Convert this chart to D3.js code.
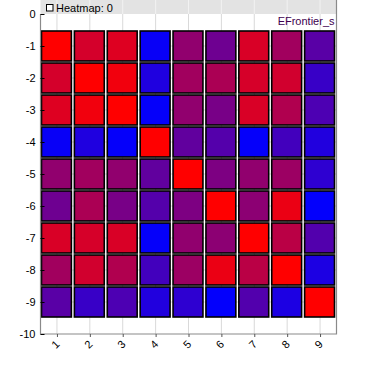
<!DOCTYPE html>
<html>
<head>
<meta charset="utf-8">
<script src="https://cdn.jsdelivr.net/npm/d3@7"></script>
<style>
  body { margin: 0; background: #fff; }
  text { font-family: "Liberation Sans", Arial, sans-serif; }
</style>
</head>
<body>
<div id="chart"></div>
<script>
const width = 376;
const height = 371;

const xCategories = [1, 2, 3, 4, 5, 6, 7, 8, 9];
const yCategories = [-1, -2, -3, -4, -5, -6, -7, -8, -9];
const yTicks = [0, -1, -2, -3, -4, -5, -6, -7, -8, -9, -10];

// cell values, one row per y category (0 = blue, 1 = red)
const rowValues = [
    [1.00, 0.83, 0.87, 0.03, 0.57, 0.43, 0.85, 0.63, 0.35],
    [0.83, 1.00, 0.95, 0.12, 0.63, 0.67, 0.84, 0.82, 0.22],
    [0.87, 0.95, 1.00, 0.02, 0.57, 0.47, 0.85, 0.69, 0.30],
    [0.03, 0.12, 0.02, 1.00, 0.38, 0.33, 0.02, 0.26, 0.13],
    [0.57, 0.63, 0.57, 0.38, 1.00, 0.49, 0.57, 0.61, 0.18],
    [0.43, 0.67, 0.47, 0.33, 0.49, 1.00, 0.55, 0.92, 0.01],
    [0.85, 0.84, 0.85, 0.02, 0.57, 0.55, 1.00, 0.73, 0.32],
    [0.63, 0.82, 0.69, 0.26, 0.61, 0.92, 0.73, 1.00, 0.11],
    [0.35, 0.22, 0.30, 0.13, 0.18, 0.01, 0.32, 0.11, 1.00]
];

const headerLabel = "Heatmap: 0";
const seriesLabel = "EFrontier_s";

const cells = [];
yCategories.forEach((yv, i) => {
    xCategories.forEach((xv, j) => {
        cells.push({ x: xv, y: yv, v: rowValues[i][j] });
    });
});

const plotLeft = 40.5, plotRight = 336.5, plotTop = 14, plotBottom = 334;

const x = d3.scaleLinear().domain([0.5, 9.5]).range([plotLeft, plotRight]);
const y = d3.scaleLinear().domain([0, -10]).range([plotTop, plotBottom]);
const color = d3.scaleLinear().domain([0, 1]).range(["#0000ff", "#ff0000"]);

const svg = d3.select('#chart')
    .append('svg')
    .attr('width', width)
    .attr('height', height);

// header band
svg.append('rect')
    .attr('x', plotLeft).attr('y', 0)
    .attr('width', plotRight - plotLeft).attr('height', plotTop)
    .attr('fill', '#e3e3e3');

// grid
svg.append('g')
    .selectAll('line')
    .data(xCategories)
    .enter()
    .append('line')
    .attr('x1', d => x(d)).attr('x2', d => x(d))
    .attr('y1', plotTop).attr('y2', plotBottom)
    .attr('stroke', '#d9d9d9');

svg.append('g')
    .selectAll('line')
    .data(xCategories)
    .enter()
    .append('line')
    .attr('x1', d => x(d)).attr('x2', d => x(d))
    .attr('y1', 0).attr('y2', plotTop)
    .attr('stroke', '#f2f2f2');

svg.append('g')
    .selectAll('line')
    .data(yTicks.slice(1, -1))
    .enter()
    .append('line')
    .attr('x1', plotLeft).attr('x2', plotRight)
    .attr('y1', d => y(d)).attr('y2', d => y(d))
    .attr('stroke', '#d9d9d9');

// cells
const cw = x(2) - x(1) - 3;
const ch = y(-2) - y(-1) - 2;
svg.append('g')
    .selectAll('rect')
    .data(cells)
    .enter()
    .append('rect')
    .attr('x', d => x(d.x) - cw / 2 - 0.5)
    .attr('y', d => y(d.y) - ch / 2)
    .attr('width', cw)
    .attr('height', ch)
    .attr('fill', d => color(d.v))
    .attr('stroke', '#000')
    .attr('stroke-width', 1.6);

// frame
svg.append('path')
    .attr('d', `M${plotLeft},${plotTop}V${plotBottom}H${plotRight}V0`)
    .attr('fill', 'none')
    .attr('stroke', '#8a8a8a')
    .attr('stroke-width', 1.2);

// y axis
const yAxis = svg.append('g')
    .attr('transform', `translate(${plotLeft},0)`)
    .call(d3.axisLeft(y).tickValues(yTicks).tickFormat(d => String(d)).tickSize(-4).tickPadding(5));
yAxis.select('.domain').remove();
yAxis.selectAll('line').attr('stroke', '#000');
yAxis.selectAll('text').attr('font-size', 11).attr('fill', '#000')
    .style('font-family', '"Liberation Sans", Arial, sans-serif');

// x axis
const xAxis = svg.append('g')
    .attr('transform', `translate(0,${plotBottom})`)
    .call(d3.axisBottom(x).tickValues(xCategories).tickFormat(d => String(d)).tickSize(3));
xAxis.select('.domain').remove();
xAxis.selectAll('line').attr('stroke', '#555');
xAxis.selectAll('text')
    .attr('font-size', 11).attr('fill', '#000')
    .style('font-family', '"Liberation Sans", Arial, sans-serif')
    .attr('text-anchor', 'end')
    .attr('dy', null)
    .attr('y', 0)
    .attr('transform', 'translate(3,11) rotate(-45)');

// header checkbox and label
svg.append('rect')
    .attr('x', 46.5).attr('y', 4.5)
    .attr('width', 6.5).attr('height', 6.5)
    .attr('fill', '#fff')
    .attr('stroke', '#000');

svg.append('text')
    .attr('x', 56).attr('y', 11.5)
    .attr('font-size', 11)
    .attr('fill', '#000')
    .text(headerLabel);

svg.append('text')
    .attr('x', plotRight - 2).attr('y', 25)
    .attr('text-anchor', 'end')
    .attr('font-size', 11)
    .attr('fill', '#400050')
    .text(seriesLabel);
</script>
</body>
</html>
